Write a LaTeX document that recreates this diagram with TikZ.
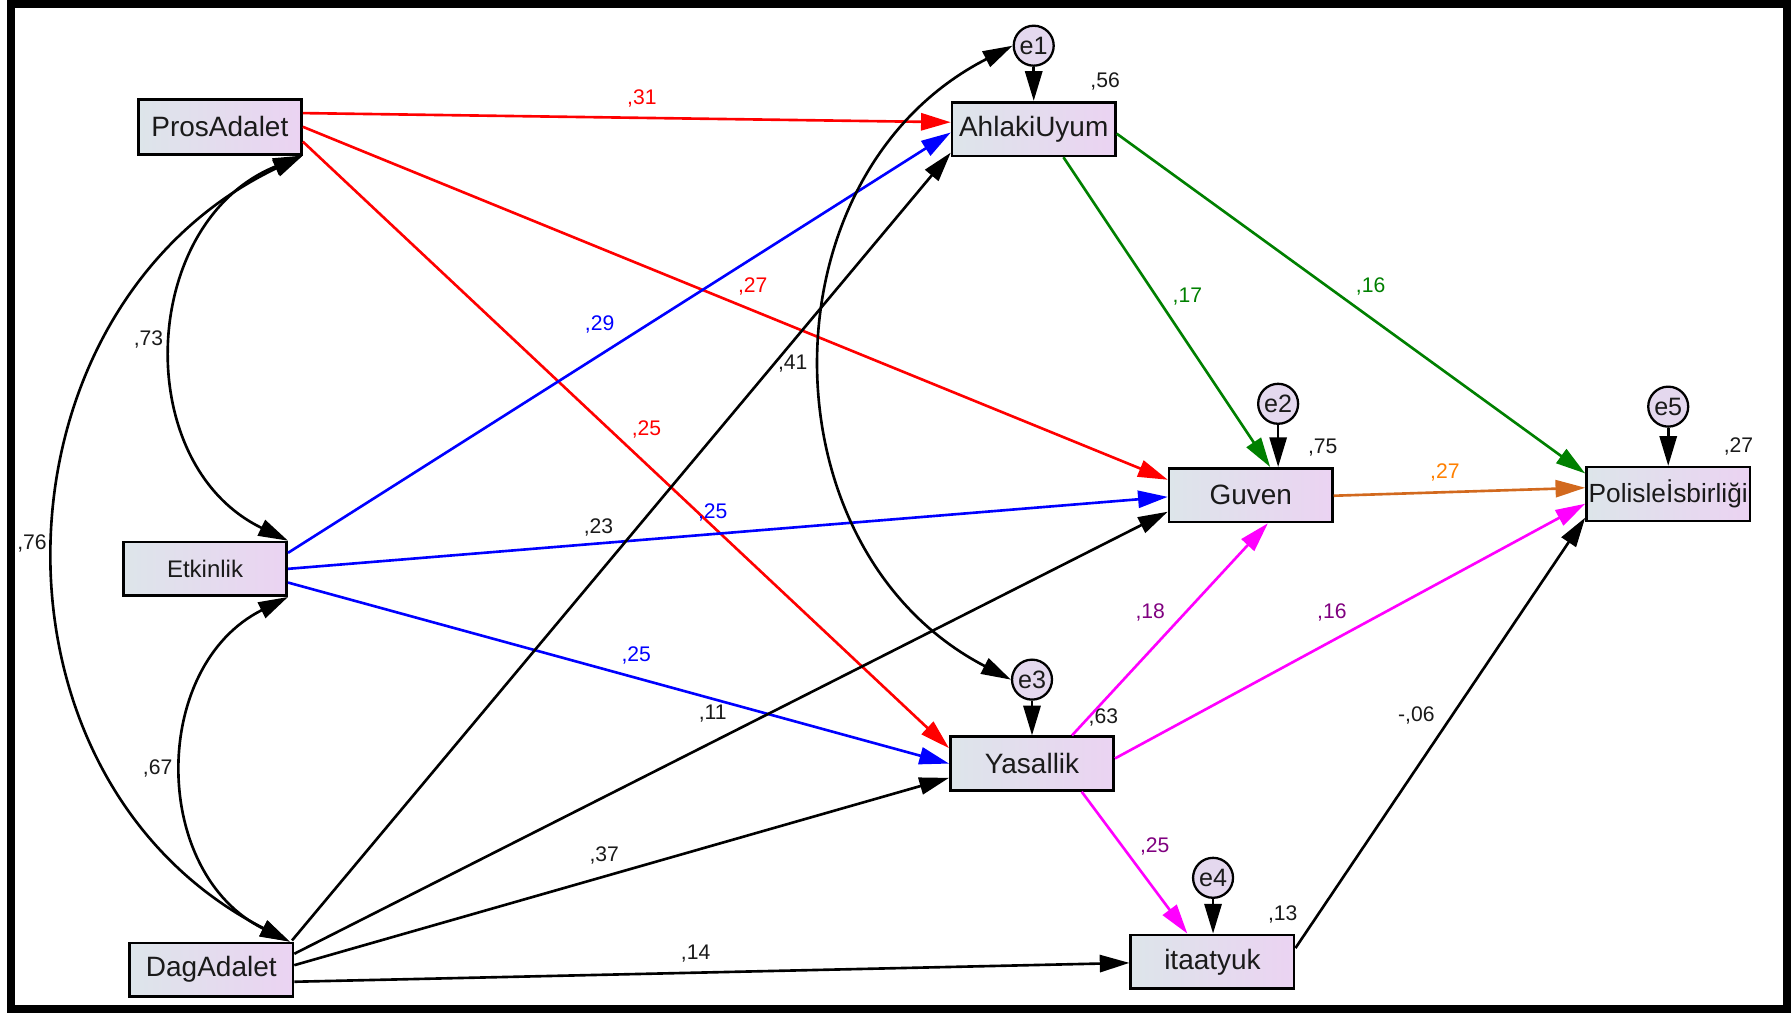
\documentclass[tikz,border=0pt]{standalone}
\usepackage{fontspec}
\setmainfont{Liberation Sans}
\usetikzlibrary{arrows.meta,calc}
\definecolor{boxL}{HTML}{DDE5EA}
\definecolor{boxR}{HTML}{EBD3F2}
\definecolor{errfill}{HTML}{E4D8EE}
\definecolor{cgreen}{HTML}{008000}
\definecolor{cmag}{HTML}{FF00FF}
\definecolor{cpurp}{HTML}{800080}
\definecolor{corg}{HTML}{D2691E}
\definecolor{corgl}{HTML}{FF8000}
\definecolor{ctxt}{HTML}{1A1A1A}
\begin{document}
\begin{tikzpicture}[x=1pt,y=-1pt,
  >={Triangle[length=26pt,width=15pt]},
  obs/.style={draw, line width=2.3pt, minimum width=143pt, minimum height=47pt, inner sep=0pt, left color=boxL, right color=boxR, text=ctxt, font=\fontsize{24.5}{26}\selectfont},
  err/.style={circle, draw, line width=2pt, minimum size=35pt, inner sep=0pt, fill=errfill, text=ctxt, font=\fontsize{22}{24}\selectfont},
  pth/.style={line width=2.3pt, ->},
  cov/.style={line width=2.3pt, <->},
  lab/.style={font=\fontsize{18.5}{20}\selectfont, inner sep=0pt, text=ctxt},
]
\useasboundingbox (0,0) rectangle (1568,887);
\fill[white] (0,0) rectangle (1568,887);
\draw[line width=7pt] (9.5,3.5) rectangle (1564.5,883.5);

% observed variables
\node[obs, minimum height=48pt] (pros) at (192.5,111) {ProsAdalet};
\node[obs, font=\fontsize{21}{23}\selectfont] (etk) at (179.5,498) {Etkinlik};
\node[obs] (dag) at (185,849) {DagAdalet};
\node[obs] (ahl) at (905,113) {AhlakiUyum};
\node[obs] (guv) at (1095,433.5) {Guven};
\node[obs] (yas) at (903.5,668.5) {Yasallik};
\node[obs] (ita) at (1061.5,842) {itaatyuk};
\node[obs, font=\fontsize{23}{25}\selectfont] (pol) at (1460.5,432.5) {Polisleİsbirliği};

% error terms
\node[err] (e1) at (905,40) {e1};
\node[err] (e2) at (1119,353.5) {e2};
\node[err] (e3) at (903.5,595) {e3};
\node[err] (e4) at (1062,768.5) {e4};
\node[err] (e5) at (1460.5,356) {e5};

% error arrows
\draw[pth] (e1.south) -- (ahl.north);
\draw[pth] (e2.south) -- (e2.south |- guv.north);
\draw[pth] (e3.south) -- (yas.north);
\draw[pth] (e4.south) -- (e4.south |- ita.north);
\draw[pth] (e5.south) -- (pol.north);

% red paths
\draw[pth, red] ($(pros.east)+(0,-12)$) -- ($(ahl.west)+(0,-6)$);
\draw[pth, red] (pros.east) -- ($(guv.west)+(0,-13.5)$);
\draw[pth, red] ($(pros.east)+(0,13)$) -- ($(yas.west)+(0,-13.5)$);
% blue paths
\draw[pth, blue] ($(etk.east)+(0,-14)$) -- ($(ahl.west)+(0,3)$);
\draw[pth, blue] (etk.east) -- ($(guv.west)+(0,1.5)$);
\draw[pth, blue] ($(etk.east)+(0,12)$) -- (yas.west);
% black paths from DagAdalet
\draw[pth] ($(dag.north east)+(-2,-1)$) -- ($(ahl.south west)+(0,-4)$);
\draw[pth] ($(dag.east)+(0,-14)$) -- ($(guv.west)+(0,14.5)$);
\draw[pth] ($(dag.east)+(0,-4)$) -- ($(yas.west)+(0,12.5)$);
\draw[pth] ($(dag.east)+(0,10.5)$) -- ($(ita.west)+(0,1)$);
% green paths
\draw[pth, cgreen] ($(ahl.south)+(26,0)$) -- ($(guv.north)+(17,0)$);
\draw[pth, cgreen] ($(ahl.east)+(0,4)$) -- ($(pol.west)+(0,-18)$);
% orange path
\draw[pth, corg] ($(guv.east)+(0,0.5)$) -- ($(pol.west)+(0,-5.5)$);
% magenta paths
\draw[pth, cmag] ($(yas.north)+(35,0)$) -- ($(guv.south)+(15,0)$);
\draw[pth, cmag] ($(yas.east)+(0,-4.5)$) -- ($(pol.west)+(0,8.5)$);
\draw[pth, cmag] ($(yas.south)+(43.5,0)$) -- ($(ita.north)+(-22,0)$);
% itaatyuk -> Polis
\draw[pth] ($(ita.east)+(0,-12)$) -- ($(pol.south west)+(0,-4)$);

% covariances
\draw[cov] (pros.south east) .. controls (122,193.7) and (113,406) .. (etk.north east);
\draw[cov] (etk.south east) .. controls (131,583.4) and (132,764.7) .. ($(dag.north east)+(-4,0)$);
\draw[cov] (pros.south east) .. controls (-14,270) and (-26,681.5) .. ($(dag.north east)+(-4,0)$);
\draw[cov] (e1.west) .. controls (666,152.7) and (666,481.3) .. (e3.west);

% path labels
\node[lab, red] (l1) at (562,86) {,31};
\node[lab, red] (l2) at (659,251) {,27};
\node[lab, red] (l3) at (566,376) {,25};
\node[lab, blue] (l4) at (525,284.5) {,29};
\node[lab, blue] (l5) at (624,449) {,25};
\node[lab, blue] (l6) at (557,573.5) {,25};
\node[lab] (l7) at (694,318) {,41};
\node[lab] (l8) at (624,625) {,11};
\node[lab] (l9) at (529,748.6) {,37};
\node[lab] (l10) at (609,834.5) {,14};
\node[lab] (l11) at (524,462) {,23};
\node[lab, cgreen] (l12) at (1039.5,260) {,17};
\node[lab, cgreen] (l13) at (1200,251) {,16};
\node[lab, corgl] (l14) at (1265,414) {,27};
\node[lab, cpurp] (l15) at (1007,536.5) {,18};
\node[lab, cpurp] (l16) at (1166,536.5) {,16};
\node[lab, cpurp] (l17) at (1011,741) {,25};
\node[lab] (l18) at (1240,626) {-,06};
% covariance labels
\node[lab] (c1) at (130,297) {,73};
\node[lab] (c2) at (138,673) {,67};
\node[lab] (c3) at (28,475.5) {,76};
% squared multiple correlations
\node[lab] (r1) at (967.5,71.5) {,56};
\node[lab] (r2) at (1158,392) {,75};
\node[lab] (r3) at (1522,391) {,27};
\node[lab] (r4) at (966,628) {,63};
\node[lab] (r5) at (1123,801) {,13};
\end{tikzpicture}
\end{document}
